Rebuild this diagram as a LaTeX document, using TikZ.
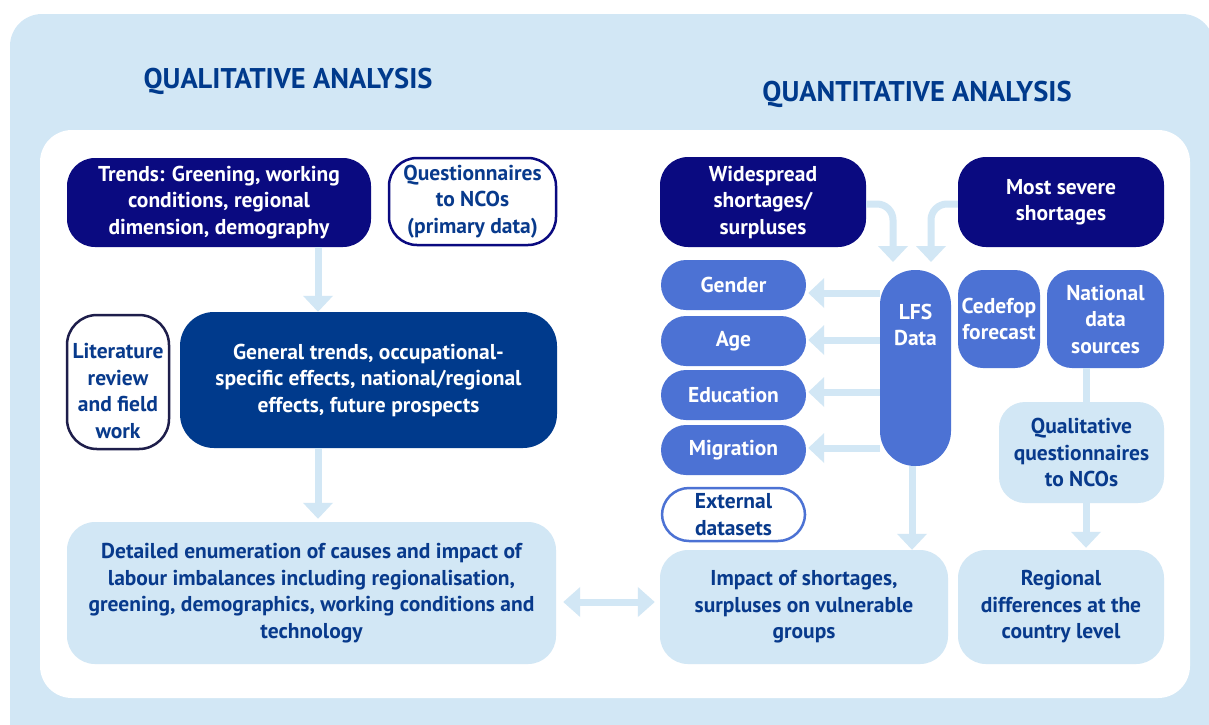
\documentclass[tikz,border=0pt]{standalone}
\usepackage{fontspec}
\setmainfont{PT Sans}
\usetikzlibrary{arrows.meta}
\definecolor{lb}{RGB}{210,231,245}
\definecolor{navy}{RGB}{10,10,128}
\definecolor{royal}{RGB}{0,58,140}
\definecolor{mid}{RGB}{76,114,212}
\definecolor{txt}{RGB}{8,58,140}
\definecolor{litb}{RGB}{30,30,75}
\begin{document}
\begin{tikzpicture}[x=1pt,y=-1pt,
  base/.style={align=center, inner sep=0pt, font=\bfseries\fontsize{21.5}{26.5}\selectfont, rounded corners=#1},
  base/.default=28pt,
  dark/.style={base, fill=navy, text=white},
  royalbox/.style={base=34pt, fill=royal, text=white},
  midbox/.style={base=25pt, fill=mid, text=white},
  light/.style={base, fill=lb, text=txt},
  outl/.style={base, fill=white, draw=navy, line width=2.5pt, text=txt},
  fat/.style={draw=lb, line width=7pt},
  tip/.style={fat, -{Triangle[width=29pt,length=16pt]}},
  dtip/.style={fat, {Triangle[width=29pt,length=17pt]}-{Triangle[width=29pt,length=17pt]}},
  title/.style={font=\bfseries\fontsize{28.5}{30}\selectfont, text=royal, inner sep=0pt},
]
\useasboundingbox (0,0) rectangle (1209,724);
\clip (0,0) rectangle (1209,724);
\fill[lb, rounded corners=32pt] (10,14) rectangle (1214,790);
\fill[white, rounded corners=32pt] (40,130) rectangle (1190,698);

\node[title] (tql) at (288,81) {QUALITATIVE ANALYSIS};
\node[title] (tqn) at (917,94) {QUANTITATIVE ANALYSIS};

% left column
\node[dark, minimum width=304pt, minimum height=89pt] (trends) at (219,202.5)
  {Trends: Greening, working\\conditions, regional\\dimension, demography};
\node[outl, minimum width=167pt, minimum height=87pt] (quest) at (472.5,201.5)
  {Questionnaires\\to NCOs\\(primary data)};
\node[base=30pt, fill=white, draw=litb, line width=2.5pt, minimum width=102pt, minimum height=134pt] (lit) at (118,382) {};
\node[base, text=txt] (littext) at (118,391) {Literature\\review\\and field\\work};
\node[royalbox, minimum width=377pt, minimum height=136pt] (gen) at (368.5,380)
  {General trends, occupational-\\specific effects, national/regional\\effects, future prospects};
\node[light, minimum width=489pt, minimum height=142pt] (det) at (311.5,593)
  {Detailed enumeration of causes and impact of\\labour imbalances including regionalisation,\\greening, demographics, working conditions and\\technology};

% right column
\node[dark, minimum width=206pt, minimum height=90pt] (wide) at (763,202)
  {Widespread\\shortages/\\surpluses};
\node[dark, minimum width=206pt, minimum height=90pt] (severe) at (1061,202)
  {Most severe\\shortages};
\node[midbox, minimum width=145pt, minimum height=50pt] (gender) at (733.5,285) {Gender};
\node[midbox, minimum width=145pt, minimum height=50pt] (age) at (733.5,341) {Age};
\node[midbox, minimum width=145pt, minimum height=50pt] (edu) at (733.5,395) {Education};
\node[midbox, minimum width=145pt, minimum height=50pt] (mig) at (733.5,450) {Migration};
\node[base=27pt, fill=white, draw=mid, line width=2.5pt, text=txt, minimum width=143pt, minimum height=53pt] (ext) at (733.5,514.5)
  {External\\datasets};
\node[base=35pt, fill=mid, minimum width=71pt, minimum height=196pt] (lfs) at (915.5,368) {};
\node[base, text=white] (lfstext) at (915.5,325) {LFS\\Data};
\node[midbox, minimum width=82pt, minimum height=98pt] (cedefop) at (999,319) {Cedefop\\forecast};
\node[midbox, minimum width=117pt, minimum height=98pt] (national) at (1105.5,319) {National\\data\\sources};
\node[light, base=26pt, minimum width=165pt, minimum height=101pt] (qq) at (1081.5,452.5)
  {Qualitative\\questionnaires\\to NCOs};
\node[light, minimum width=288pt, minimum height=114pt] (impact) at (804,607)
  {Impact of shortages,\\surpluses on vulnerable\\groups};
\node[light, minimum width=206pt, minimum height=114pt] (regional) at (1061,607)
  {Regional\\differences at the\\country level};

% connectors
\coordinate (colL) at (318,0);
\coordinate (colM) at (912,0);
\coordinate (colR) at (1086,0);
\coordinate (rowD) at (0,602);
\coordinate (tipA) at (893,262);
\coordinate (tipB) at (931,262);

\draw[tip] (colL |- trends.south) -- (colL |- gen.north);
\draw[tip, shorten >=3pt] (colL |- gen.south) -- (colL |- det.north);
\draw[dtip, shorten <=7pt, shorten >=5pt] (det.east |- rowD) -- (impact.west |- rowD);

\draw[tip, rounded corners=16pt] ([yshift=-2pt]wide.east) -| (tipA);
\draw[tip, rounded corners=16pt] ([yshift=-2pt]severe.west) -| (tipB);

\draw[tip, shorten >=2pt] ([yshift=-8pt]gender.east -| lfs.west) -- ([yshift=-8pt]gender.east);
\draw[tip, shorten >=2pt] ([yshift=1pt]age.east -| lfs.west) -- ([yshift=1pt]age.east);
\draw[tip, shorten >=2pt] ([yshift=3pt]edu.east -| lfs.west) -- ([yshift=3pt]edu.east);
\draw[tip, shorten >=2pt] ([yshift=2pt]mig.east -| lfs.west) -- ([yshift=2pt]mig.east);

\draw[tip] (colM |- lfs.south) -- (colM |- impact.north);
\draw[fat] (colR |- national.south) -- (colR |- qq.north);
\draw[tip, shorten >=2pt] (colR |- qq.south) -- (colR |- regional.north);
\end{tikzpicture}
\end{document}
